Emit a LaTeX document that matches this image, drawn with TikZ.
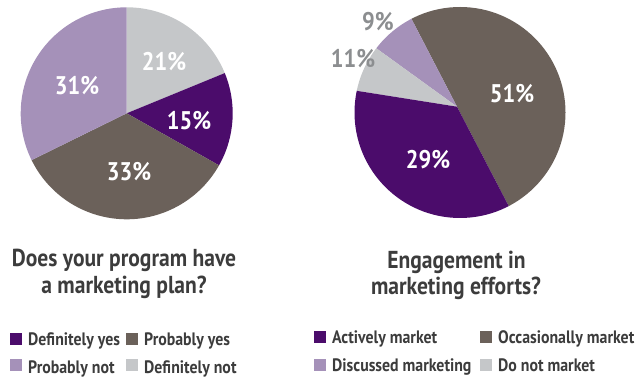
\documentclass[tikz,border=0pt]{standalone}
\usepackage{fontspec}
\usetikzlibrary{calc}
\newfontfamily\cond[FakeStretch=0.88]{PT Sans}
\definecolor{dpurple}{HTML}{4B0C6B}
\definecolor{brownc}{HTML}{6B615A}
\definecolor{lpurple}{HTML}{A591B9}
\definecolor{lgray}{HTML}{C5C7C9}
\definecolor{titlec}{HTML}{3C3C3C}
\definecolor{pctgray}{HTML}{8C8E90}
\tikzset{
  pct/.style={font=\cond\bfseries\fontsize{25.5}{25.5}\selectfont, text=white, inner sep=0pt},
  outpct/.style={font=\cond\bfseries\fontsize{25.5}{25.5}\selectfont, text=pctgray, inner sep=0pt},
  ttl/.style={font=\cond\bfseries\fontsize{24.5}{24.5}\selectfont, text=titlec, inner sep=0pt, anchor=base},
  leg/.style={font=\cond\bfseries\fontsize{18}{18}\selectfont, text=titlec, inner sep=0pt, anchor=base west},
  sq/.style={minimum size=12pt, inner sep=0pt, anchor=south west}
}
\begin{document}
\begin{tikzpicture}[x=1pt,y=1pt]
\useasboundingbox (0,0) rectangle (642,377);
% left pie
\coordinate (LC) at (126.7,263.7);
\def\R{106}
\fill[lgray] (LC) -- ++(22.3:\R) arc[start angle=22.3, end angle=90, radius=\R] -- cycle;
\fill[dpurple] (LC) -- ++(-29.4:\R) arc[start angle=-29.4, end angle=22.3, radius=\R] -- cycle;
\fill[brownc] (LC) -- ++(-153.8:\R) arc[start angle=-153.8, end angle=-29.4, radius=\R] -- cycle;
\fill[lpurple] (LC) -- ++(90:\R) arc[start angle=90, end angle=206.2, radius=\R] -- cycle;
\node[pct] (l21) at (164,315) {21\%};
\node[pct] (l15) at (189,256) {15\%};
\node[pct] (l33) at (129,205) {33\%};
\node[pct] (l31) at (77,291) {31\%};
% right pie
\coordinate (RC) at (460,264.5);
\coordinate (RV) at (457,270.3);
\begin{scope}
\clip (RC) circle[radius=105.5];
\fill[brownc] (RV) -- ($(RV)+(-62.5:200)$) -- ($(RV)+(0:200)$) -- ($(RV)+(60:200)$) -- ($(RV)+(117.4:200)$) -- cycle;
\fill[lpurple] (RV) -- ($(RV)+(117.4:200)$) -- ($(RV)+(144.1:200)$) -- cycle;
\fill[lgray] (RV) -- ($(RV)+(144.1:200)$) -- ($(RV)+(171:200)$) -- cycle;
\fill[dpurple] (RV) -- ($(RV)+(171:200)$) -- ($(RV)+(230:200)$) -- ($(RV)+(-62.5:200)$) -- cycle;
\end{scope}
\node[pct] (r51) at (512,283) {51\%};
\node[pct] (r29) at (428,217) {29\%};
\node[outpct] (r11) at (353,318) {11\%};
\node[outpct] (r9) at (378,355) {9\%};
% titles
\node[ttl] (t1a) at (124,110.3) {Does your program have};
\node[ttl] (t1b) at (124,83.7) {a marketing plan?};
\node[ttl] (t2a) at (456.5,108.7) {Engagement in};
\node[ttl] (t2b) at (456,82) {marketing efforts?};
% left legend
\node[sq, fill=dpurple] (s1) at (10,32) {};
\node[leg] (g1) at (28,31) {Definitely yes};
\node[sq, fill=brownc] (s2) at (126,32) {};
\node[leg] (g2) at (144,31) {Probably yes};
\node[sq, fill=lpurple] (s3) at (10,5.5) {};
\node[leg] (g3) at (28,3.7) {Probably not};
\node[sq, fill=lgray] (s4) at (126,5.5) {};
\node[leg] (g4) at (144,3.7) {Definitely not};
% right legend
\node[sq, fill=dpurple] (s5) at (314,34) {};
\node[leg] (g5) at (332,33) {Actively market};
\node[sq, fill=brownc] (s6) at (480,34) {};
\node[leg] (g6) at (498,33) {Occasionally market};
\node[sq, fill=lpurple] (s7) at (314,6) {};
\node[leg] (g7) at (332,5.3) {Discussed marketing};
\node[sq, fill=lgray] (s8) at (480,6) {};
\node[leg] (g8) at (498,5.3) {Do not market};
\end{tikzpicture}
\end{document}
